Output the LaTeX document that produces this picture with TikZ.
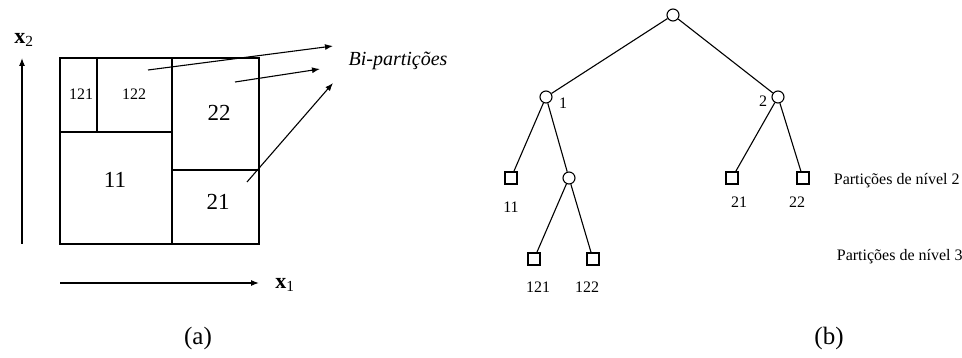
\documentclass[tikz,border=0pt]{standalone}
\usepackage{fontspec}
\setmainfont{Liberation Serif}
\usetikzlibrary{arrows.meta}

\tikzset{
    leaf/.style={draw, rectangle, minimum size=12pt, inner sep=0pt},
    split/.style={draw, circle, minimum size=12pt, inner sep=0pt},
    pointer/.style={-{Latex[length=8pt,width=6pt]}},
}

\begin{document}
\begin{tikzpicture}[x=1pt, y=-1pt, line width=1.1pt, every node/.style={font=\fontsize{16}{18}\selectfont}]

    \useasboundingbox (0,0) rectangle (962,358);

    % Partitions (a)
    \draw (60,58) rectangle (259,244);
    \draw (172,58) -- (172,244);
    \draw (60,132) -- (172,132);
    \draw (97,58) -- (97,132);
    \draw (172,170) -- (259,170);

    \node (p121) at (81,94) {121};
    \node (p122) at (134,94) {122};
    \node (p22) at (219,113) [font=\fontsize{23}{25}\selectfont] {22};
    \node (p11) at (115,180) [font=\fontsize{23}{25}\selectfont] {11};
    \node (p21) at (218,202) [font=\fontsize{23}{25}\selectfont] {21};

    % Axes
    \coordinate (yfoot) at (22,244);
    \coordinate (ytip) at (22,58);
    \coordinate (xfoot) at (60,283);
    \coordinate (xtip) at (259,283);
    \draw[pointer] (yfoot) -- (ytip);
    \draw[pointer] (xfoot) -- (xtip);
    \node (xtwo) at (24,40) [font=\fontsize{22}{24}\selectfont] {\textbf{x}\textsubscript{2}};
    \node (xone) at (285,285) [font=\fontsize{22}{24}\selectfont] {\textbf{x}\textsubscript{1}};

    % Bi-partitions
    \node (bip) at (398,61) [font=\fontsize{20}{22}\selectfont\itshape] {Bi-partições};
    \coordinate (s1) at (148,70);
    \coordinate (e1) at (333,46);
    \coordinate (s2) at (235,82);
    \coordinate (e2) at (320,69);
    \coordinate (s3) at (247,182);
    \coordinate (e3) at (333,83);
    \draw[pointer] (s1) -- (e1);
    \draw[pointer] (s2) -- (e2);
    \draw[pointer] (s3) -- (e3);

    \node (capa) at (198,338) [font=\fontsize{25}{27}\selectfont] {(a)};

    % Tree (b)
    \node (root) at (673,15) [split] {};
    \node (n1) at (546,97) [split] {};
    \node (n2) at (778,97) [split] {};
    \node (n11) at (511,178) [leaf] {};
    \node (n12) at (569,178) [split] {};
    \node (n21) at (732,178) [leaf] {};
    \node (n22) at (803,178) [leaf] {};
    \node (n121) at (534,259) [leaf] {};
    \node (n122) at (593,259) [leaf] {};

    \draw (root) -- (n1);
    \draw (root) -- (n2);
    \draw (n1) -- (n11);
    \draw (n1) -- (n12);
    \draw (n2) -- (n21);
    \draw (n2) -- (n22);
    \draw (n12) -- (n121);
    \draw (n12) -- (n122);

    % Labels
    \node (l1) at (563,103) {1};
    \node (l2) at (763,101) {2};
    \node (l11) at (511,207) {11};
    \node (l21) at (739,202) {21};
    \node (l22) at (797,202) {22};
    \node (l121) at (538,287) {121};
    \node (l122) at (587,287) {122};
    \node (lev2) at (830,181) [anchor=west] {Partições de nível 2};
    \node (lev3) at (833,257) [anchor=west] {Partições de nível 3};

    \node (capb) at (829,338) [font=\fontsize{25}{27}\selectfont] {(b)};

\end{tikzpicture}
\end{document}
